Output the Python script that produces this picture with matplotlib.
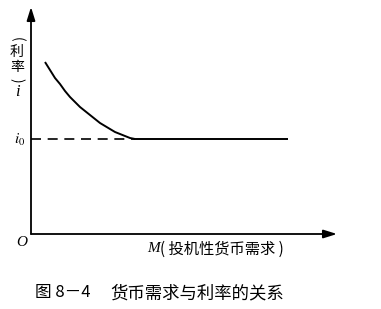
import numpy as np
import matplotlib.pyplot as plt

# 中文字体
plt.rcParams['font.family'] = ['Noto Sans CJK SC', 'DejaVu Sans']

# 货币需求曲线（从图中读取的点）
m_vals = [14, 19, 24, 29, 34, 39, 44, 49, 54, 59, 64, 69, 74, 79, 84, 89, 94, 99, 104, 257]
i_vals = [172, 164, 156, 150, 143, 137, 132, 127, 123, 119, 115, 111, 108, 105, 102,
          100, 98, 96, 95, 95]
i0 = 95
m_i0 = 104
x_max = 306
y_max = 227

x_label = '投机性货币需求'
y_label = ['利', '率']
fig_no = '图 8－4'
caption = '货币需求与利率的关系'

fig = plt.figure(figsize=(3.81, 3.09), dpi=100)
ax = fig.add_axes([0, 0, 1, 1])
ax.set_xlim(-31, 350)
ax.set_ylim(-75, 234)
ax.axis('off')

# 坐标轴
arrow = dict(arrowstyle='-|>,head_length=0.8,head_width=0.25', color='black',
             lw=1.3, shrinkA=0, shrinkB=0)
ax.annotate('', xy=(x_max, 0), xytext=(0, 0), arrowprops=arrow)
ax.annotate('', xy=(0, y_max), xytext=(0, 0), arrowprops=arrow)

# 曲线和虚线
ax.plot(m_vals, i_vals, color='black', lw=1.4, solid_capstyle='butt')
ax.plot([0, m_i0], [i0, i0], color='black', lw=1.2, dashes=(6, 4))

serif = ['Liberation Serif', 'DejaVu Serif']
ax.text(-9, -9, 'O', family=serif, style='italic', fontsize=11, ha='center', va='center')
ax.text(-6, i0, r'$i_0$', fontsize=11, ha='right', va='center',
        math_fontfamily='stix')

# 纵轴标签（竖排）
ax.text(-14, 195, '(', fontsize=10, rotation=-90, ha='center', va='center')
ax.text(-14, 182, y_label[0], fontsize=10, ha='center', va='center')
ax.text(-14, 167, y_label[1], fontsize=10, ha='center', va='center')
ax.text(-14, 154, ')', fontsize=10, rotation=-90, ha='center', va='center')
ax.text(-14, 142, 'i', family=serif, style='italic', fontsize=12, ha='center', va='center')

# 横轴标签
ax.text(116, -15, 'M', family=serif, style='italic', fontsize=11, ha='left', va='center')
ax.text(129, -15, '( ' + x_label + ' )', fontsize=11, ha='left', va='center')

# 图题
ax.text(4, -59, fig_no, fontsize=12, ha='left', va='center')
ax.text(79, -59, caption, fontsize=12.5, ha='left', va='center')

fig.savefig('out.png', dpi=100)
